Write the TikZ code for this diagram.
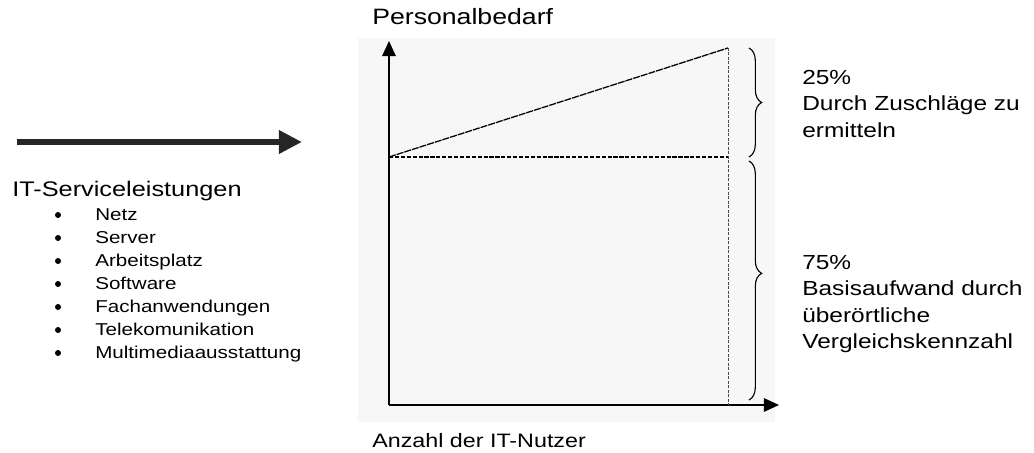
\documentclass[tikz,border=0pt]{standalone}
\usepackage{fontspec}
\setmainfont{Liberation Sans}[FakeStretch=1.2]
\usetikzlibrary{arrows.meta, positioning, decorations.pathreplacing}

\begin{document}
\begin{tikzpicture}[
        x=0.025cm, y=-0.025cm,
        txt/.style={inner sep=0pt, align=left, font=\fontsize{14.5}{18.8}\selectfont},
        item/.style={inner sep=0pt, anchor=base west, font=\fontsize{12.2}{14}\selectfont},
        axis/.style={-{Triangle[length=3.8mm, width=3.4mm]}, line width=1.1pt},
        bigarrow/.style={-{Triangle[length=5.8mm, width=5.6mm]}, line width=4.6pt, draw=black!85},
        slope/.style={line width=0.9pt, dash pattern=on 5pt off 0.7pt},
        baseline/.style={line width=0.8pt, dash pattern=on 3pt off 1.2pt},
        marker/.style={line width=0.7pt, draw=black!70, dash pattern=on 2pt off 1.2pt},
        brace/.style={decorate, decoration={brace, amplitude=9pt}, line width=0.8pt}
    ]
        \useasboundingbox (0,0) rectangle (1034,453);
        \fill[black!3] (358,38) rectangle (775,422);

        % axes
        \coordinate (O) at (389,405);
        \coordinate (ytip) at (389,41);
        \coordinate (xtip) at (779,405);
        \draw[axis] (O) -- (ytip);
        \draw[axis] (O) -- (xtip);
        \node[txt, anchor=base west, font=\fontsize{15.8}{18}\selectfont] (ylabel) at (372,25) {Personalbedarf};
        \node[txt, anchor=base west, font=\fontsize{13.8}{16}\selectfont] (xlabel) at (372,447) {Anzahl der IT-Nutzer};

        % curve and guides
        \coordinate (b0) at (389,157);
        \coordinate (b1) at (728,157);
        \coordinate (t1) at (728,48);
        \coordinate (f1) at (728,405);
        \draw[slope] (b0) -- (t1);
        \draw[baseline] (b0) -- (b1);
        \draw[marker] (t1) -- (f1);

        % braces
        \coordinate (u0) at (749,48);
        \coordinate (u1) at (749,157);
        \coordinate (l0) at (749,161);
        \coordinate (l1) at (749,400);
        \draw[brace] (u0) -- (u1);
        \draw[brace, decoration={aspect=0.47}] (l0) -- (l1);
        \node[txt, anchor=north west] (share25) at (802,70) {25\%\\Durch Zuschläge zu\\ermitteln};
        \node[txt, anchor=north west] (share75) at (802,255) {75\%\\Basisaufwand durch\\überörtliche\\Vergleichskennzahl};

        % services
        \coordinate (a0) at (17,142);
        \coordinate (a1) at (302,142);
        \draw[bigarrow] (a0) -- (a1);
        \node[txt, anchor=base west, font=\fontsize{15}{18}\selectfont] (services) at (12,196) {IT-Serviceleistungen};
        \foreach \name [count=\i] in {Netz, Server, Arbeitsplatz, Software, Fachanwendungen, Telekomunikation, Multimediaausstattung} {
            \node[item] (item\i) at (95,197+23*\i) {\name};
            \fill (58,192+23*\i) circle (3);
        }
    \end{tikzpicture}
\end{document}
